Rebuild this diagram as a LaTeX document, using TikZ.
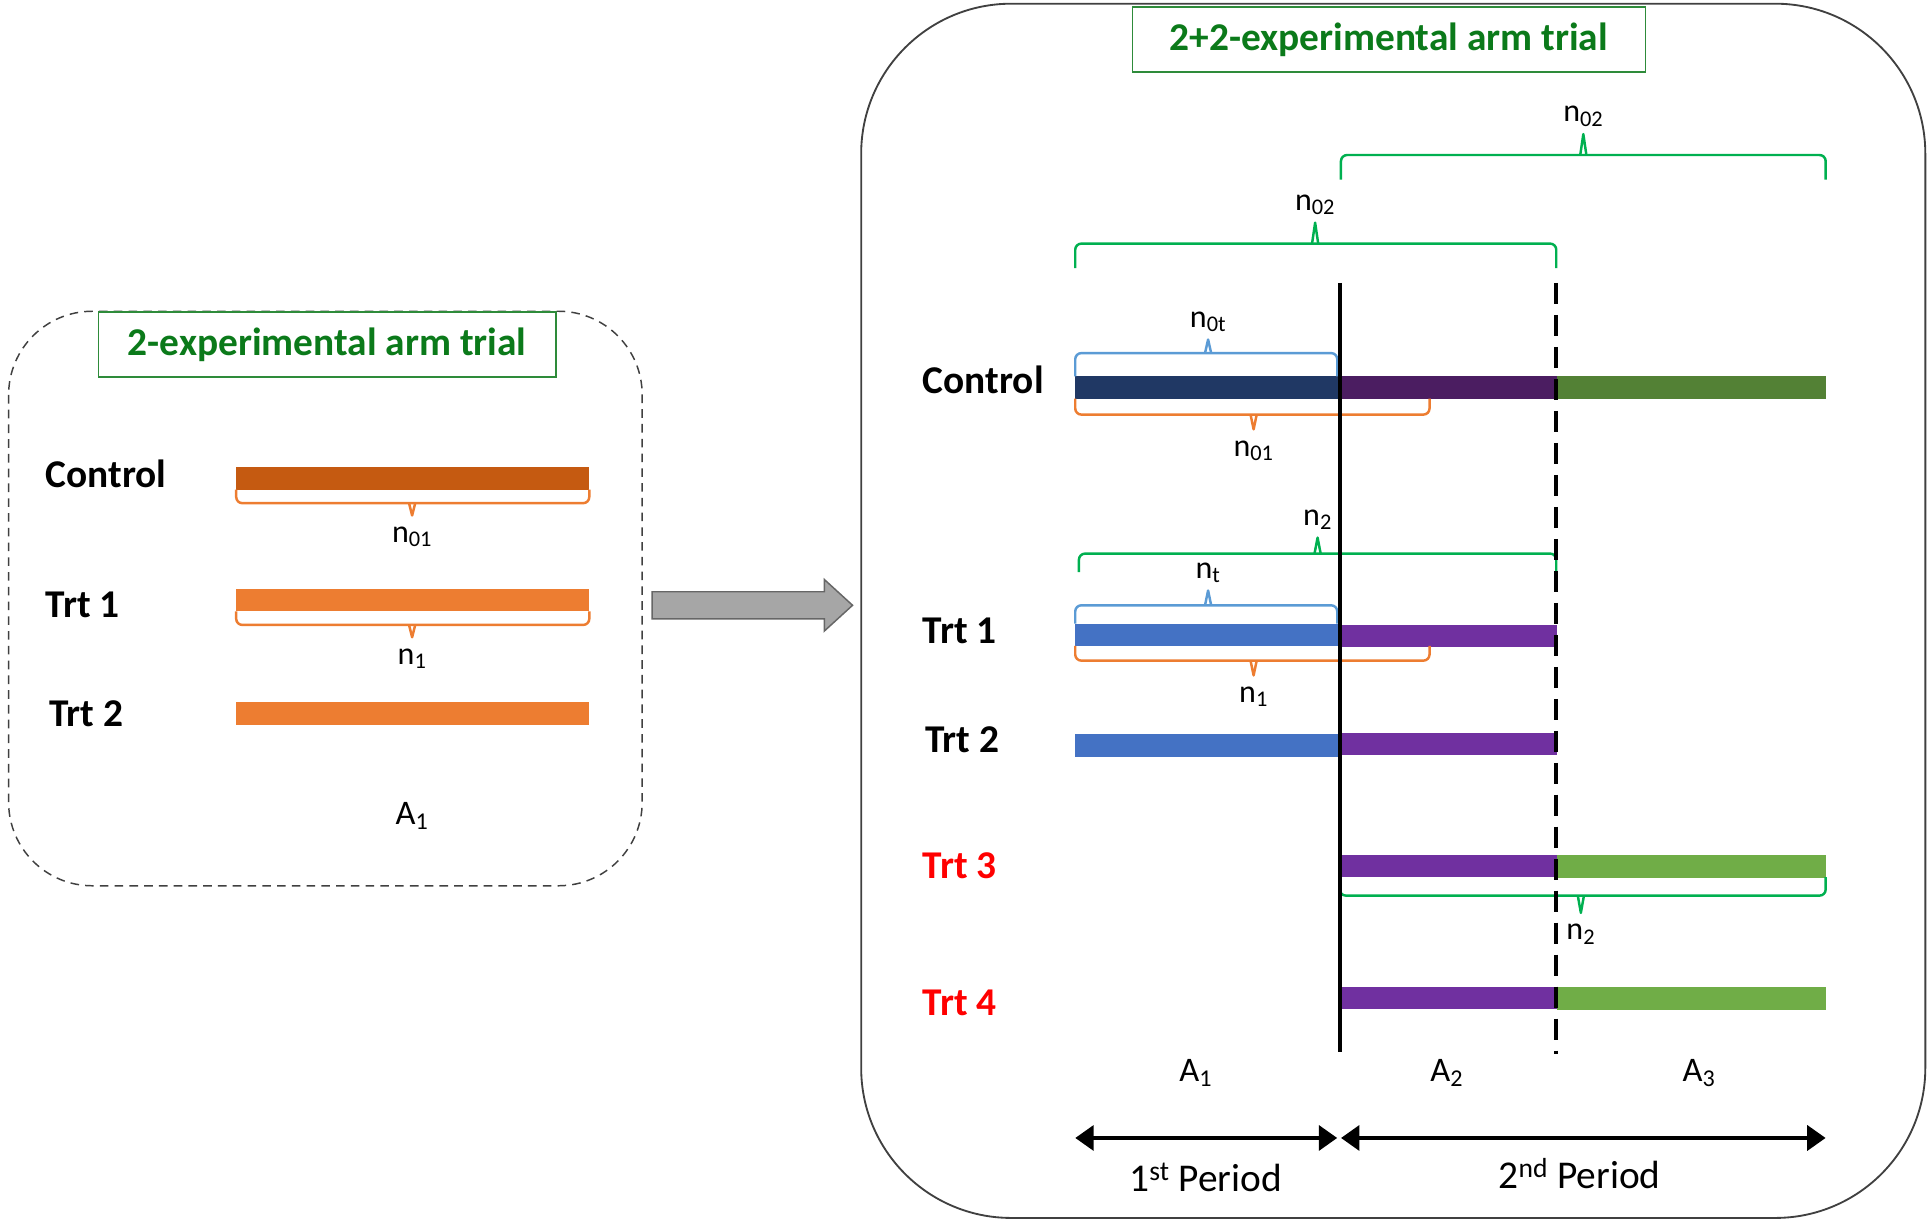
\documentclass[tikz,border=0pt]{standalone}
\usepackage{fontspec}
\setmainfont{Carlito}
\usetikzlibrary{arrows.meta,positioning}
\definecolor{ctrlbrown}{HTML}{C55A11}
\definecolor{armorange}{HTML}{ED7D31}
\definecolor{ctrlnavy}{HTML}{203864}
\definecolor{ctrlpurple}{HTML}{4B1D61}
\definecolor{ctrlgreen}{HTML}{538135}
\definecolor{armblue}{HTML}{4472C4}
\definecolor{armpurple}{HTML}{7030A0}
\definecolor{armgreen}{HTML}{70AD47}
\definecolor{braceblue}{HTML}{5B9BD5}
\definecolor{bracegreen}{HTML}{00B050}
\definecolor{titletext}{HTML}{0B7A1A}
\definecolor{titleline}{HTML}{2E8B3A}
\definecolor{boxgray}{HTML}{404040}
% brace: colour, x from, x to, y of ends, y of line, x of tip, y of tip, name of tip
\newcommand{\nbrace}[8]{%
  \draw[#1, line width=2pt, rounded corners=5pt] (#2,#4) -- (#2,#5) -- (#3,#5) -- (#3,#4);
  \draw[#1, line width=2pt, line join=round] ({#6-2.5},#5) -- (#6,#7) coordinate (#8) -- ({#6+2.5},#5);}
\begin{document}
\begin{tikzpicture}[x=1pt, y=-1pt,
    armlbl/.style={anchor=west, inner sep=0pt, font=\fontsize{32}{38}\selectfont\bfseries},
    nlbl/.style={inner sep=0pt, font=\fontsize{26}{30}\selectfont},
    alabel/.style={inner sep=0pt, font=\fontsize{28}{32}\selectfont},
    titlebox/.style={draw=titleline, line width=1.2pt, fill=white, text=titletext,
        minimum height=53pt, inner sep=0pt, font=\fontsize{32}{38}\selectfont\bfseries},
    period/.style={line width=4pt,
        {Triangle[length=15pt,width=20pt]}-{Triangle[length=15pt,width=20pt]}}]
\useasboundingbox (0,0) rectangle (1568,996);

% 2-experimental arm trial
\draw[boxgray, line width=1.2pt, dash pattern=on 7pt off 5pt, rounded corners=68pt]
    (7,253) rectangle (522,720);
\node[titlebox, minimum width=372pt] (ltitle) at (266,280) {2-experimental arm trial};
\node[armlbl] (lctrl) at (37,385) {Control};
\node[armlbl] (ltrt1) at (37,492) {Trt 1};
\node[armlbl] (ltrt2) at (40,580) {Trt 2};
\fill[ctrlbrown] (192,380) rectangle (479,398);
\fill[armorange] (192,479) rectangle (479,497);
\fill[armorange] (192,571) rectangle (479,589);
\nbrace{armorange}{192}{479}{398}{409}{335}{419}{tA}
\nbrace{armorange}{192}{479}{497}{508}{335}{518}{tB}
\node[nlbl, below=9pt of tA] (ln01) {n\textsubscript{01}};
\node[nlbl, below=9pt of tB] (ln1) {n\textsubscript{1}};
\node[alabel] (la1) at (335,663) {A\textsubscript{1}};

% block arrow
\draw[fill=gray!70, draw=gray!80!black, line width=1.2pt]
    (530,481) -- (670,481) -- (670,471) -- (693,492) -- (670,513) -- (670,503) -- (530,503) -- cycle;

% 2+2-experimental arm trial
\draw[boxgray, line width=1.5pt, rounded corners=122pt] (700,3) rectangle (1565,990);
\node[titlebox, minimum width=417pt] (rtitle) at (1129,32) {2+2-experimental arm trial};
\node[armlbl] (rctrl) at (750,309) {Control};
\node[armlbl] (rtrt1) at (750,513) {Trt 1};
\node[armlbl] (rtrt2) at (752,601) {Trt 2};
\node[armlbl, text=red] (rtrt3) at (750,704) {Trt 3};
\node[armlbl, text=red] (rtrt4) at (750,815) {Trt 4};

\fill[ctrlnavy] (874,306) rectangle (1089,324);
\fill[ctrlpurple] (1089,306) rectangle (1266,324);
\fill[ctrlgreen] (1266,306) rectangle (1484,324);
\fill[armblue] (874,507) rectangle (1089,525);
\fill[armpurple] (1089,508) rectangle (1266,526);
\fill[armblue] (874,597) rectangle (1089,615);
\fill[armpurple] (1089,596) rectangle (1266,614);
\fill[armpurple] (1089,695) rectangle (1266,713);
\fill[armgreen] (1266,695) rectangle (1484,714);
\fill[armpurple] (1089,802) rectangle (1266,820);
\fill[armgreen] (1266,802) rectangle (1484,821);

\nbrace{bracegreen}{1090}{1484}{146}{126}{1287}{109}{tC}
\nbrace{bracegreen}{874}{1265}{218}{198}{1069}{181}{tD}
\nbrace{braceblue}{874}{1087}{306}{287}{982}{276}{tE}
\nbrace{armorange}{874}{1162}{324}{337}{1019}{349}{tF}
\nbrace{bracegreen}{877}{1265}{465}{450}{1071}{437}{tG}
\nbrace{braceblue}{874}{1087}{507}{492}{982}{480}{tH}
\nbrace{armorange}{874}{1162}{525}{537}{1019}{549}{tI}
\nbrace{bracegreen}{1089}{1484}{713}{728}{1285}{742}{tJ}
\node[nlbl, above=6pt of tC] (rn02a) {n\textsubscript{02}};
\node[nlbl, above=6pt of tD] (rn02b) {n\textsubscript{02}};
\node[nlbl, above=6pt of tE] (rn0t) {n\textsubscript{0t}};
\node[nlbl, below=9pt of tF] (rn01) {n\textsubscript{01}};
\node[nlbl, above=6pt of tG] (rn2a) {n\textsubscript{2}};
\node[nlbl, above=6pt of tH] (rnt) {n\textsubscript{t}};
\node[nlbl, below=9pt of tI] (rn1) {n\textsubscript{1}};
\node[nlbl, below=9pt of tJ] (rn2b) {n\textsubscript{2}};

% period boundaries
\draw[line width=3pt] (1089,230) -- (1089,855);
\draw[line width=3pt, dash pattern=on 17pt off 9pt] (1265,230) -- (1265,857);

\node[alabel] (ra1) at (972,872) {A\textsubscript{1}};
\node[alabel] (ra2) at (1176,872) {A\textsubscript{2}};
\node[alabel] (ra3) at (1381,872) {A\textsubscript{3}};

\coordinate (p1a) at (874,925);
\coordinate (p1b) at (1087,925);
\coordinate (p2a) at (1090,925);
\coordinate (p2b) at (1484,925);
\draw[period] (p1a) -- (p1b);
\draw[period] (p2a) -- (p2b);
\node[alabel, font=\fontsize{32}{38}\selectfont] (per1) at (980,957) {1\textsuperscript{st} Period};
\node[alabel, font=\fontsize{32}{38}\selectfont] (per2) at (1284,954) {2\textsuperscript{nd} Period};
\end{tikzpicture}
\end{document}
